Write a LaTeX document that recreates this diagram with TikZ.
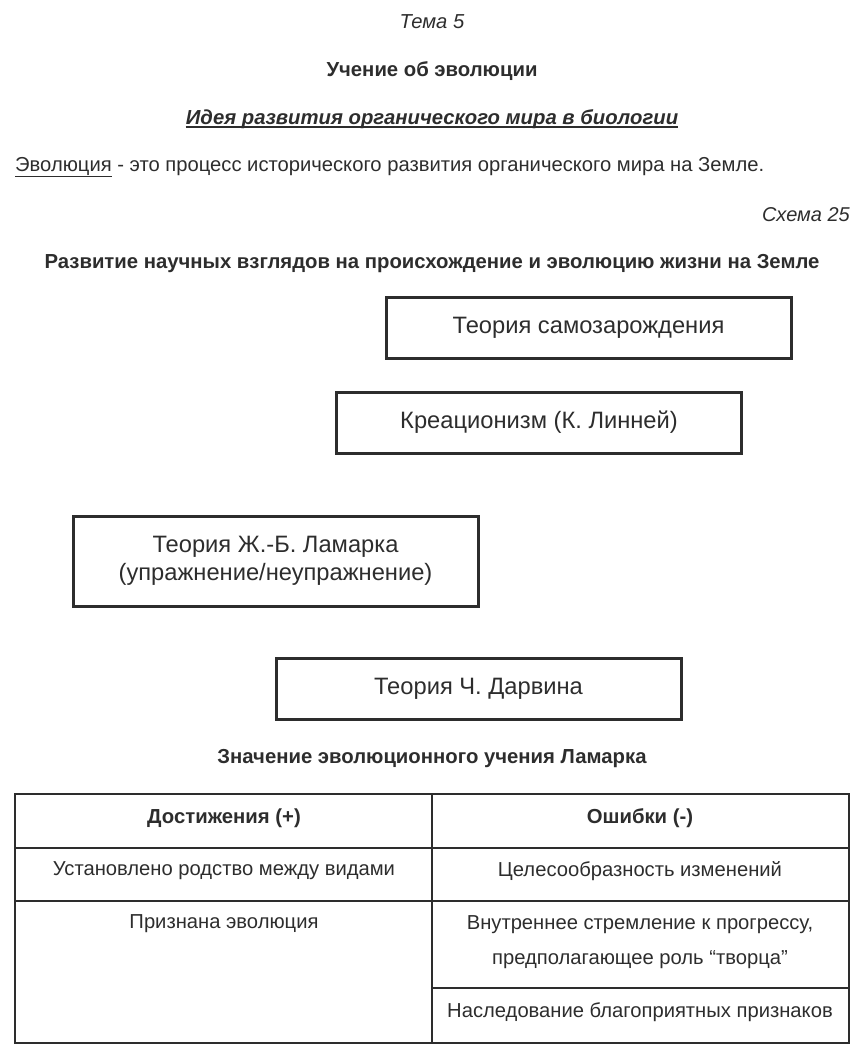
\documentclass[tikz,border=0pt]{standalone}
\usepackage{fontspec}
\setmainfont{Liberation Sans}
\usetikzlibrary{positioning}
\definecolor{inkgray}{RGB}{45,45,45}

\begin{document}
\begin{tikzpicture}[x=1pt, y=-1pt,
  every node/.style={text=inkgray, inner sep=0pt},
  plain/.style={font=\fontsize{20.2}{24}\selectfont},
  heading/.style={font=\fontsize{20.3}{24}\selectfont\bfseries},
  theory/.style={draw=inkgray, line width=3pt, minimum width=405pt, minimum height=61pt,
    align=center, font=\fontsize{23.7}{28}\selectfont},
  cell/.style={font=\fontsize{20.2}{35}\selectfont, align=center}]
  \useasboundingbox (0,0) rectangle (861,1055);

  % titles
  \node (topic) at (432,22) {\fontsize{20.2}{24}\selectfont\itshape Тема 5};
  \node[heading] (study) at (432,71) {Учение об эволюции};
  \node[heading] (idea) at (432,119) {\itshape Идея развития органического мира в биологии};
  \draw[inkgray, line width=2pt] ([yshift=-3pt]idea.base west) -- ([yshift=-3pt]idea.base east);
  \node[plain, anchor=west] (def) at (15,167) {\underline{Эволюция} - это процесс исторического развития органического мира на Земле.};
  \node[anchor=east] (scheme) at (850,215) {\fontsize{20}{24}\selectfont\itshape Схема 25};
  \node[heading] (views) at (432,264) {Развитие научных взглядов на происхождение и эволюцию жизни на Земле};

  % theories
  \node[theory] (spont) at (588.5,327.5) {Теория самозарождения};
  \node[theory] (creat) at (539,422.5) {Креационизм (К. Линней)};
  \node[theory, minimum height=90pt] (lamarck) at (275.5,561) {Теория Ж.-Б. Ламарка\\(упражнение/неупражнение)};
  \node[theory] (darwin) at (478.5,689) {Теория Ч. Дарвина};

  % table
  \node[heading] (meaning) at (432,759) {Значение эволюционного учения Ламарка};
  \draw[inkgray, line width=2pt] (15,794) rectangle (849,1043);
  \draw[inkgray, line width=2pt] (432,794) -- (432,1043);
  \draw[inkgray, line width=2pt] (15,848) -- (849,848);
  \draw[inkgray, line width=2pt] (15,901) -- (849,901);
  \draw[inkgray, line width=2pt] (432,988) -- (849,988);

  \node[cell, font=\fontsize{20.3}{24}\selectfont\bfseries] (plus) at (224,818) {Достижения (+)};
  \node[cell, font=\fontsize{20.3}{24}\selectfont\bfseries] (minus) at (640,818) {Ошибки (-)};
  \node[cell] (kin) at (224,871) {Установлено родство между видами};
  \node[cell] (purpose) at (640,871) {Целесообразность изменений};
  \node[cell] (evol) at (224,924) {Признана эволюция};
  \node[cell] (urge) at (640,942) {Внутреннее стремление к прогрессу,\\предполагающее роль “творца”};
  \node[cell] (inherit) at (640,1012) {Наследование благоприятных признаков};
\end{tikzpicture}
\end{document}
